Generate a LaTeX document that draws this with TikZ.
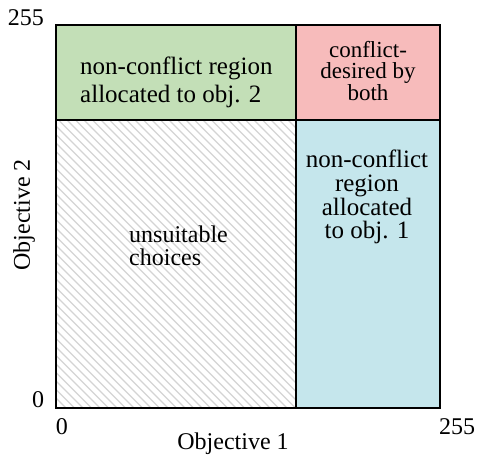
\documentclass[tikz,border=0pt]{standalone}
\usepackage{fontspec}
\setmainfont{Liberation Serif}
\definecolor{gfill}{RGB}{195,223,183}
\definecolor{pfill}{RGB}{247,187,187}
\definecolor{bfill}{RGB}{197,230,236}
\definecolor{hatchc}{RGB}{212,212,212}
\tikzset{
  lbl/.style={inner sep=0pt, font=\fontsize{24}{27}\selectfont},
  border/.style={line width=2pt, black},
}
\begin{document}
\begin{tikzpicture}[x=1pt,y=-1pt]
\useasboundingbox (0,0) rectangle (477,459);
% fills
\fill[gfill] (56,25) rectangle (296,120);
\fill[pfill] (296,25) rectangle (440,120);
\fill[bfill] (296,120) rectangle (440,408);
\fill[white] (56,120) rectangle (296,408);
% hatch
\begin{scope}
\clip (56,120) rectangle (296,408);
\foreach \i in {-300,-291.5,...,250}{
  \draw[hatchc, line width=1.3pt] (56+\i,115) -- (56+\i+300,415);
}
\end{scope}
% borders
\draw[border] (56,25) rectangle (440,408);
\draw[border] (296,25) -- (296,408);
\draw[border] (56,120) -- (440,120);
% region labels
\node[lbl, anchor=west, align=left, font=\fontsize{25}{28}\selectfont] (g) at (80,82) {non-conflict region\\allocated to obj. 2};
\node[lbl, align=center, font=\fontsize{23}{21.5}\selectfont] (p) at (368,71) {conflict-\\desired by\\both};
\node[lbl, align=center, font=\fontsize{25}{23.8}\selectfont] (b) at (367,197) {non-conflict\\region\\allocated\\to obj. 1};
\node[lbl, anchor=west, align=left, font=\fontsize{24}{23}\selectfont] (u) at (129,246) {unsuitable\\choices};
% axis labels
\node[lbl, anchor=base] (t255) at (26,25) {255};
\node[lbl, anchor=base] (l0) at (38,407) {0};
\node[lbl, anchor=base] (b0) at (62,434) {0};
\node[lbl, anchor=base] (r255) at (457,434) {255};
\node[lbl, anchor=base] (ox) at (233,449) {Objective 1};
\node[lbl, rotate=90] (oy) at (24,215) {Objective 2};
\end{tikzpicture}
\end{document}
